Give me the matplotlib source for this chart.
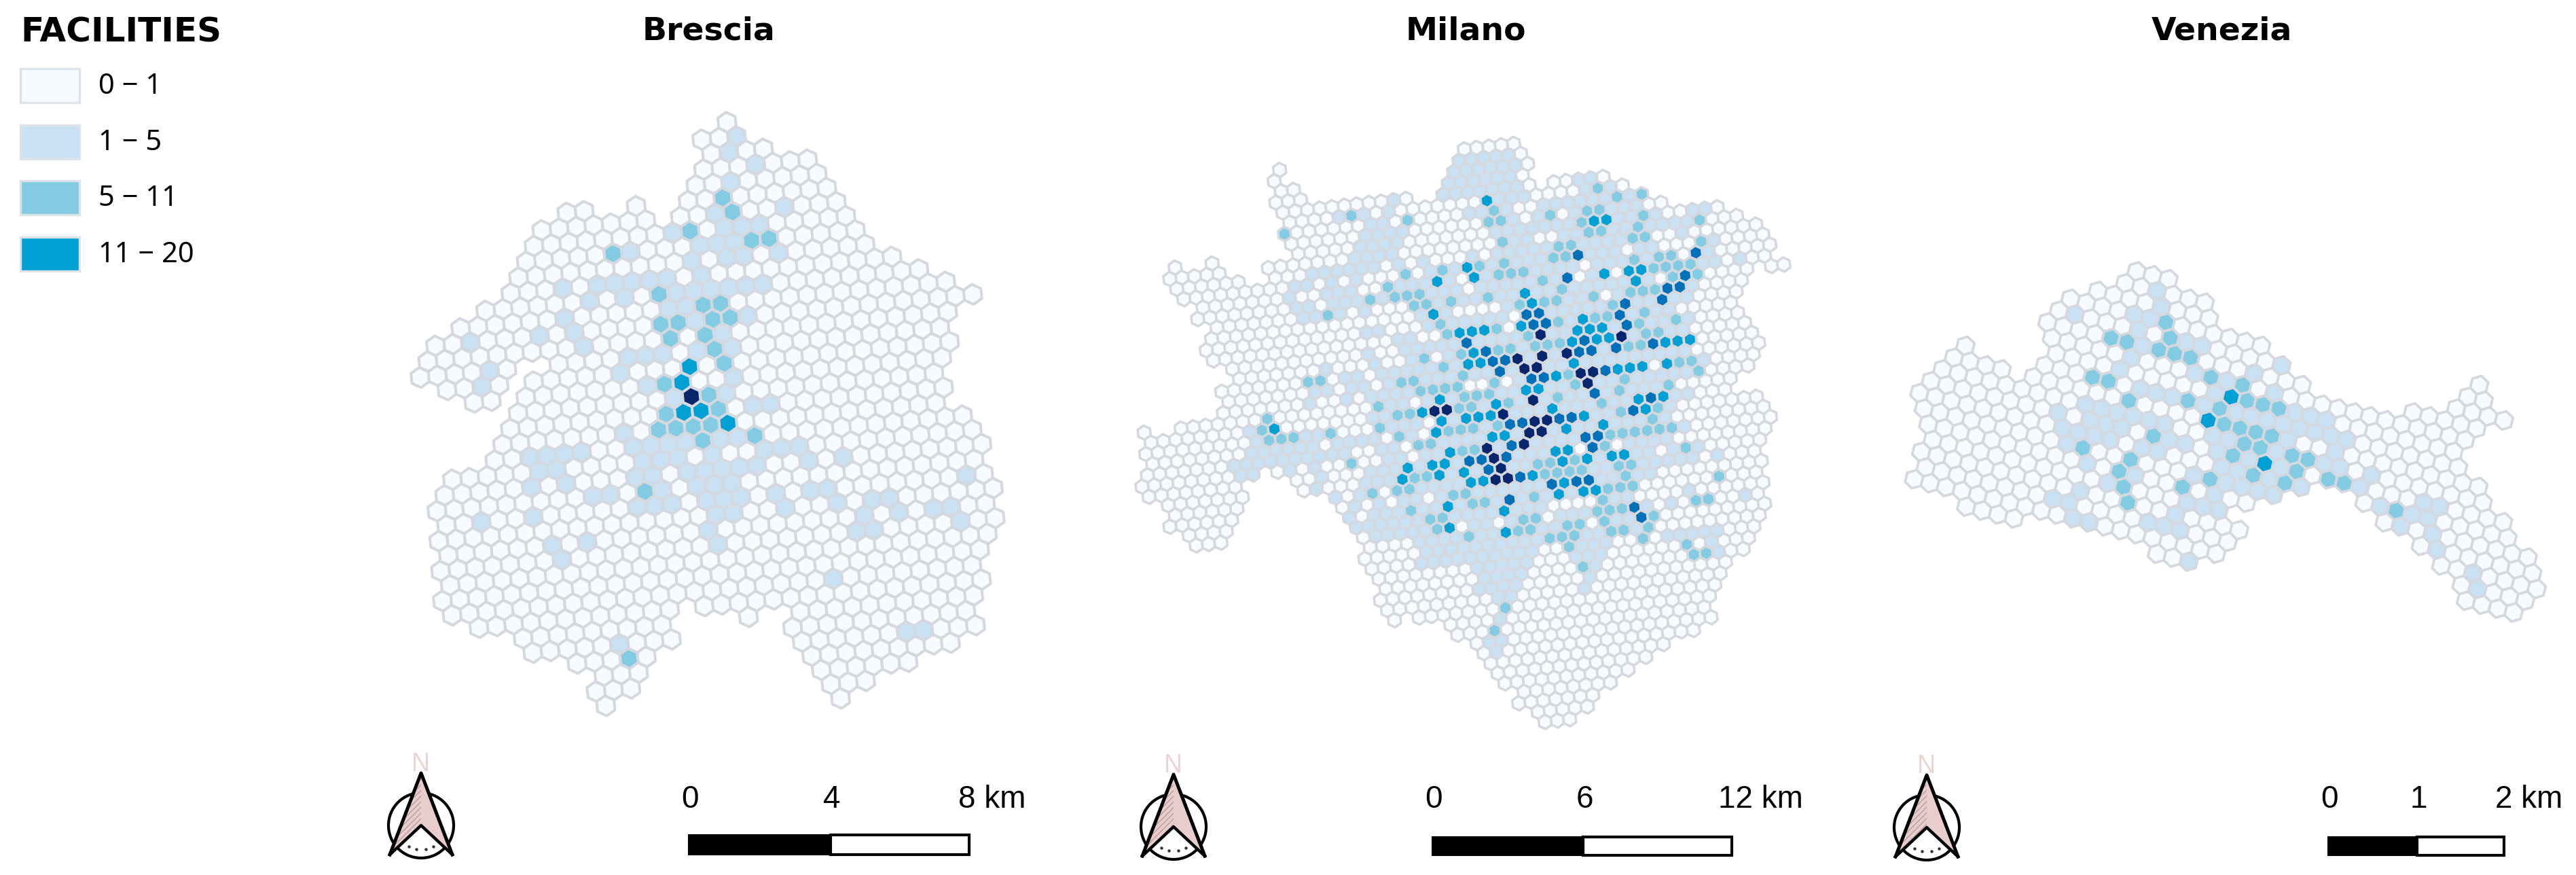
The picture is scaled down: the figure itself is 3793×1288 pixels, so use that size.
#!/usr/bin/env python3
# -*- coding: utf-8 -*-
"""
Facilities per hexagon cell in Brescia, Milano and Venezia.
Cells are kept as (row, col) on each city's hex lattice.
"""
import numpy as np

import matplotlib as mpl
mpl.use('Agg')
import matplotlib.pyplot as plt
from matplotlib.collections import PolyCollection
from matplotlib.patches import Circle, Polygon, Rectangle

W, H = 3793, 1288

legend_labels = ['0 \u2212 1', '1 \u2212 5', '5 \u2212 11', '11 \u2212 20']
colors = ['#f7fbff', '#c9e1f3', '#83cbe3', '#009fd4', '#0070b8', '#08266e']
edge = '#d5d9df'

# ---- Brescia ----
brescia_spans = [
    (0, 0, 0), (1, -2, 0), (2, -2, 1), (3, -3, 3), (4, -4, 3),
    (5, -12, -11), (5, -8, -8), (5, -5, 3), (6, -14, -8), (6, -6, 3),
    (7, -15, 3), (8, -16, 3), (9, -17, 3), (10, -18, 4), (11, -20, 5),
    (12, -22, 6), (13, -24, 7), (14, -25, 5), (15, -26, -21), (15, -18, 4),
    (16, -25, -22), (16, -20, 4), (17, -24, -23), (17, -21, 3), (18, -22, 2),
    (19, -23, 2), (20, -24, 1), (21, -25, 2), (22, -28, 2), (23, -29, 2),
    (24, -30, 1), (25, -30, 1), (26, -31, 1), (27, -31, 0), (28, -32, 0),
    (29, -32, -1), (30, -33, -2), (31, -33, -3), (32, -32, -21), (32, -19, -3),
    (33, -30, -22), (33, -17, -17), (33, -14, -4), (34, -30, -22), (34, -15, -5),
    (35, -28, -24), (35, -15, -5), (36, -27, -25), (36, -15, -7),
    (37, -28, -26), (37, -15, -10), (38, -28, -28), (38, -15, -13), (39, -15, -15),
]
brescia_1_5 = [
    (1, 0), (2, -1), (3, 0), (4, -2), (6, 0), (6, -4), (7, -4), (7, -3), (7, -2), (7, -7),
    (8, -6), (8, -5), (8, -4), (8, -10), (9, -2), (9, -4), (9, -5), (9, -7), (10, -7),
    (10, -13), (10, -12), (10, -11), (10, -10), (10, -9), (10, -15), (11, -9), (11, -8),
    (11, -7), (11, -6), (11, -5), (11, -4), (11, -14), (11, -12), (12, -10), (12, -9),
    (12, -16), (13, -9), (13, -6), (14, -8), (13, -16), (13, -18), (13, -22), (14, -16),
    (15, -10), (15, -8), (15, -14), (15, -13), (15, -12), (15, -22), (16, -15), (16, -23),
    (17, -14), (17, -9), (18, -13), (18, -10), (20, -17), (19, -9), (19, -8), (21, -11),
    (22, -9), (22, -8), (22, -10), (23, -8), (21, -17), (21, -16), (21, -15), (21, -14),
    (21, -12), (22, -17), (22, -16), (22, -15), (22, -13), (23, -18), (23, -17), (23, -15),
    (23, -14), (23, -13), (23, -12), (23, -11), (24, -17), (24, -15), (24, -14), (24, -13),
    (25, -19), (25, -18), (25, -17), (25, -15), (25, -14), (25, -13), (26, -15), (26, -14),
    (27, -16), (28, -16), (21, -23), (21, -22), (21, -21), (21, -20), (22, -23), (22, -22),
    (23, -24), (23, -22), (24, -21), (24, -20), (23, -6), (25, -11), (25, -9), (25, -8),
    (26, -11), (26, -8), (26, -6), (26, -5), (27, -7), (27, -5), (25, 0), (27, -3), (27, -2),
    (28, -2), (25, -28), (25, -25), (27, -23), (27, -25), (28, -25), (28, -8), (28, -7),
    (31, -11), (35, -9), (35, -8), (34, -25),
]
brescia_5_11 = [
    (5, -3), (6, -3), (7, -6), (8, -3), (8, -2), (8, -11), (11, -10), (12, -8), (12, -7),
    (13, -8), (13, -7), (13, -11), (13, -10), (14, -11), (14, -9), (15, -9), (16, -9),
    (17, -13), (18, -11), (19, -11), (19, -14), (20, -12), (20, -15), (20, -14), (20, -13),
    (21, -13), (21, -10), (24, -18), (35, -25),
]
brescia_11_20 = [(16, -11), (17, -12), (19, -13), (19, -12), (20, -11)]
brescia_top = [(18, -12)]

# ---- Milano ----
milano_spans = [
    (0, -16, -16), (0, -1, 3), (1, -17, -17), (1, -2, 3), (2, -17, -16), (2, -3, 3),
    (3, -18, -16), (3, -4, 2), (4, -18, -8), (4, -5, 2), (4, 4, 8), (5, -18, 9),
    (6, -19, 10), (7, -19, 11), (8, -29, -29), (8, -26, -26), (8, -19, 15),
    (9, -30, -26), (9, -22, 16), (10, -30, -25), (10, -22, 17), (11, -30, 17),
    (12, -29, 17), (13, -30, 16), (14, -29, 14), (14, 16, 17), (15, -30, 13),
    (16, -31, 12), (17, -31, 11), (18, -30, 11), (19, -30, 11), (20, -32, 11),
    (21, -32, 11), (22, -33, 10), (23, -40, -40), (23, -37, 9), (24, -40, 7),
    (25, -41, 6), (26, -41, 8), (27, -42, 8), (28, -43, -35), (28, -32, 8),
    (29, -43, -36), (29, -31, 7), (30, -42, -36), (30, -31, 6), (31, -42, -37),
    (31, -29, 5), (32, -43, -38), (32, -29, 5), (33, -42, -39), (33, -29, 4),
    (34, -42, -40), (34, -29, 4), (35, -29, 3), (36, -29, 3), (37, -30, 2),
    (38, -30, 1), (39, -30, 0), (40, -30, -1), (41, -31, -3), (42, -31, -4),
    (43, -31, -31), (43, -29, -5), (44, -27, -6), (45, -27, -7), (46, -26, -7),
    (47, -26, -9), (48, -26, -12), (49, -26, -14), (50, -26, -16), (51, -25, -18),
    (52, -26, -20), (53, -25, -21), (54, -25, -23),
]
milano_light_spans = [
    (1, -2, 2), (2, -3, 2), (3, -4, 1), (4, -5, 1), (4, 6, 7), (4, -9, -9), (5, -14, -9),
    (5, -2, 1), (5, 6, 8), (6, -12, -9), (6, -4, -1), (6, 2, 10), (7, -13, -10), (7, -3, -1),
    (7, 1, 9), (8, -14, -11), (8, -3, 10), (8, 13, 14), (9, -15, -12), (9, -3, 12),
    (10, -20, -12), (10, -10, -6), (10, -4, 11), (11, -21, -12), (11, -10, 11), (11, 13, 13),
    (12, -22, 12), (13, -22, 12), (13, 14, 14), (14, -22, 10), (15, -22, 9), (16, -23, 8),
    (17, -23, 6), (18, -23, 7), (19, -23, 6), (20, -25, 6), (21, -25, 5), (22, -26, 6),
    (23, -26, 5), (24, -32, -30), (24, -26, 2), (25, -32, -28), (25, -27, 3), (26, -33, 1),
    (27, -35, 0), (28, -35, -34), (28, -31, 1), (29, -31, -1), (30, -30, 1), (31, -29, 0),
    (31, 2, 2), (32, -28, -4), (33, -29, -6), (34, -29, -7), (34, -2, -2), (35, -28, -6),
    (35, -4, -4), (35, 2, 2), (36, -25, -6), (37, -25, -7), (38, -26, -17), (38, -14, -11),
    (38, -6, -2), (39, -22, -18), (39, -14, -12), (39, -3, -3), (40, -22, -19), (40, -14, -13),
    (40, -3, -3), (41, -23, -20), (41, -14, -14), (42, -22, -21), (42, -15, -15), (44, -23, -23),
    (46, -25, -24), (47, -25, -25),
]
milano_holes = [
    (6, -10), (11, -14), (12, -16), (15, -16), (15, -17), (16, -15), (18, -18), (19, -14),
    (22, -13), (22, -12), (22, -10), (23, -18), (25, -18), (27, -21), (28, -21), (32, -25),
    (33, -28), (35, -21), (35, -18), (35, -14), (36, -11), (13, -8), (15, -10), (15, -9),
    (15, -8), (15, -7), (16, -6), (17, -7), (12, 2), (13, 1), (13, 4), (15, 2), (22, 2),
    (29, -5), (29, -8), (30, -2), (34, -12), (34, -11), (34, -10), (34, -13), (8, -10),
    (7, -4), (9, 0), (9, 1), (7, 3), (11, 6), (11, 11), (14, 7), (12, 10), (11, 9), (11, 10),
    (10, 10), (10, 9),
    # west side, which is about half empty
    (5, -11), (5, -9), (5, -7), (5, -6), (5, -5), (5, -4), (5, -3), (6, -8), (6, -7), (6, -6),
    (6, -5), (7, -9), (7, -8), (7, -7), (7, -6), (7, -5), (8, -10), (8, -9), (8, -8), (8, -7),
    (8, -6), (8, -5), (8, -4), (9, -11), (9, -10), (9, -9), (9, -8), (9, -7), (9, -6), (9, -5),
    (9, -4), (10, -20), (10, -13), (10, -11), (10, -9), (10, -8), (10, -7), (10, -5), (11, -19),
    (11, -17), (11, -15), (11, -13), (12, -21), (12, -20), (12, -15), (12, -8), (13, -20),
    (14, -20), (14, -18), (14, -16), (14, -15), (14, -14), (15, -23), (15, -22), (15, -21),
    (15, -20), (15, -19), (15, -18), (15, -15), (15, -14), (16, -23), (16, -22), (16, -21),
    (16, -20), (16, -19), (16, -16), (16, -14), (17, -24), (17, -23), (17, -22), (17, -21),
    (17, -20), (17, -19), (17, -18), (17, -17), (17, -14), (17, -13), (18, -23), (18, -22),
    (18, -21), (18, -20), (18, -17), (19, -25), (19, -22), (19, -21), (19, -20), (19, -18),
    (19, -17), (20, -26), (20, -25), (20, -23), (20, -20), (21, -26), (21, -23), (21, -20),
    (22, -27), (22, -25), (22, -24), (22, -22), (23, -27), (23, -26), (23, -25), (23, -24),
    (23, -23), (23, -22), (24, -28), (24, -27), (24, -26), (24, -25), (24, -24), (24, -23),
    (25, -25), (25, -24), (25, -23), (26, -27), (26, -22), (26, -19), (27, -25), (27, -24),
    (28, -30), (28, -28), (28, -27), (28, -25), (28, -24), (29, -31), (29, -30), (29, -28),
    (29, -27), (29, -26), (30, -29), (30, -28), (30, -27), (31, -28), (31, -25), (32, -27),
    (32, -25), (32, -22),
]
milano_5_11 = [
    (5, -13), (6, -19), (6, -9), (6, -2), (7, -3), (7, -2), (7, 2), (7, 5), (7, 6), (8, 4),
    (5, 7), (6, 8), (6, 10), (8, 9), (9, 8), (9, 13), (9, 4), (9, 5), (10, 7), (10, 8),
    (9, -3), (11, 12), (10, 1), (10, 2), (11, 0), (11, 1), (12, 6), (12, 8), (12, 9),
    (13, 7), (13, 8), (13, 9), (13, 10), (11, -4), (11, -6), (11, -9), (12, -5), (12, -4),
    (12, -3), (11, -12), (14, 8), (14, 10), (13, -2), (14, -1), (15, 1), (15, 4), (15, 5),
    (15, 6), (12, -14), (13, -14), (13, -13), (13, -12), (14, -10), (14, -13), (14, -12),
    (13, -16), (14, -20), (14, -7), (15, -5), (15, -3), (15, -2), (16, 2), (17, 4),
    (18, 6), (17, 0), (17, 1), (16, -12), (17, -8), (17, -12), (18, -6), (17, -3),
    (18, 3), (19, 4), (19, 3), (20, 2), (20, 1), (19, -8), (19, -9), (19, -12), (19, -6),
    (19, -5), (19, -4), (22, 4), (22, 5), (23, 5), (24, 2), (19, -15), (20, -14), (21, -13),
    (22, -5), (23, -5), (24, -2), (23, -1), (25, -4), (21, -18), (21, -17), (22, -17),
    (22, -16), (22, -15), (22, -14), (20, -25), (20, -24), (22, -11), (24, -7), (26, 0),
    (23, -14), (23, -13), (23, -12), (23, -21), (24, -20), (24, -19), (24, -15), (24, -14),
    (24, -11), (26, -3), (27, -1), (23, -30), (24, -31), (25, -31), (25, -30), (25, -29),
    (25, -26), (25, -22), (26, -21), (27, -20), (27, -19), (26, -17), (26, -16), (26, -15),
    (26, -13), (28, -5), (28, -4), (28, -3), (28, -2), (28, -1), (28, 0), (30, 0), (28, -17),
    (28, -16), (29, -6), (30, -12), (30, -11), (30, -9), (31, -6), (31, -5), (32, -6),
    (33, -8), (33, -7), (33, -6), (30, -22), (30, -21), (28, -26), (31, -12), (31, -11),
    (31, -10), (31, -9), (33, 1), (31, -24), (31, -23), (32, -20), (32, -19), (31, -26),
    (33, -14), (34, -9), (33, -19), (33, -18), (35, -10), (35, -9), (35, -8), (33, -24),
    (35, -2), (35, -1), (34, -23), (34, -22), (35, -16), (35, -15), (36, -13), (36, -12),
    (36, -10), (35, -23), (36, -17), (36, -16), (37, -13), (37, -10), (36, -6), (36, -21),
    (37, -15), (37, -14), (37, -9), (37, -7), (38, -14), (38, -8), (39, -5), (40, -5),
    (40, -4), (40, -14), (43, -22), (45, -24),
]
milano_11_20 = [
    (5, -2), (8, 5), (8, 6), (13, 3), (11, -7), (12, -7), (12, -10), (15, -12), (13, 5),
    (13, 6), (14, 5), (14, -4), (15, -4), (17, -6), (17, -1), (18, -1), (18, 0), (18, -2),
    (19, -3), (19, -1), (19, 0), (20, 4), (20, 5), (20, 6), (17, -11), (17, -10), (17, -9),
    (19, -11), (20, -12), (20, -11), (21, -4), (22, 0), (22, 1), (22, 3), (22, -1),
    (23, -9), (23, -8), (22, -6), (25, -1), (25, 1), (23, -16), (24, -18), (25, -17),
    (26, -18), (24, -12), (25, -13), (25, -15), (25, -14), (27, -8), (26, -6), (27, -5),
    (25, -8), (27, -13), (27, -14), (29, -10), (29, -9), (30, -8), (30, -10), (30, -6),
    (30, -5), (28, -18), (29, -22), (30, -23), (29, -20), (29, -19), (30, -20), (30, -18),
    (31, -18), (31, -17), (32, -11), (33, -10), (33, -9), (33, -12), (33, -21), (34, -17),
    (35, -22), (36, -18), (31, -13), (24, -30), (26, -1),
]
milano_20_30 = [
    (11, 2), (13, 0), (14, 9), (16, 3), (17, 2), (18, 2), (17, -5), (17, -4), (18, -11),
    (19, -10), (20, -10), (20, -9), (21, -10), (22, -8), (22, -7), (19, -2), (20, -2),
    (20, -3), (20, 0), (22, -2), (24, -4), (25, 0), (26, -2), (20, 3), (26, -12), (26, -11),
    (26, -8), (26, -7), (28, -7), (28, -6), (29, -7), (28, -13), (29, -14), (30, -16),
    (29, -17), (29, -16), (32, -12), (32, -10), (32, -9), (31, -14), (33, -16), (35, -7),
    (36, -7), (12, 11), (15, 7), (15, 8), (16, 6), (16, -4), (16, -5),
]
milano_top = [
    (18, -5), (19, 1), (20, -8), (20, -6), (20, -4), (21, -8), (21, -7), (22, -4), (22, -3),
    (23, -4), (24, -9), (24, -17), (24, -16), (25, -12), (26, -10), (26, -9), (27, -10),
    (27, -11), (28, -12), (28, -15), (29, -15), (30, -15), (31, -16), (31, -15),
]

# ---- Venezia ----
venezia_spans = [
    (-7, -4, -2), (-6, -5, 0), (-5, -7, 0), (-5, 17, 17), (-4, -9, 3), (-4, 16, 17),
    (-3, -10, 4), (-3, 15, 18), (-2, -11, 5), (-2, 12, 16), (-1, -11, 15), (0, -11, 14),
    (1, -17, -17), (1, -12, 14), (2, -18, -15), (2, -13, 15), (3, -19, 15), (4, -20, 16),
    (5, -21, 3), (5, 7, 16), (6, -21, 1), (6, 8, 17), (7, -21, -1), (7, 10, 17),
    (8, -21, -3), (8, 11, 17), (9, -22, -2), (9, 12, 16), (10, -22, -3), (10, 12, 15),
    (11, -23, -4), (12, -20, -17), (12, -8, -6),
]
venezia_1_5 = [
    (-6, -3), (-5, -3), (-3, -9), (-4, -5), (-4, -4), (-3, -5), (-2, -5), (-3, -2), (-3, -1),
    (-1, -6), (0, -7), (-1, -2), (-2, 2), (-3, 4), (-1, 0), (1, -6), (1, -5), (1, -4), (0, -1),
    (-1, 3), (1, -2), (1, 0), (1, 1), (1, 2), (1, 3), (1, 4), (0, 4), (0, 5), (0, 6), (1, 5),
    (1, 6), (1, 7), (4, -12), (3, -10), (3, -9), (3, -8), (4, -10), (4, -9), (4, -8), (3, -7),
    (3, -6), (3, -5), (5, -12), (5, -11), (5, -10), (5, -9), (6, -12), (7, -11), (8, -10),
    (9, -12), (10, -14), (10, -13), (11, -13), (11, -12), (5, -7), (5, -6), (7, -8), (4, -5),
    (4, -4), (3, -2), (3, -1), (2, 3), (2, 6), (3, 6), (3, 5), (4, 7), (3, 8), (4, -2), (5, -2),
    (5, -1), (6, -4), (6, -2), (6, -1), (6, 0), (6, 1), (5, 3), (7, -3), (8, -5), (8, -4),
    (8, -3), (9, -6), (10, -8), (10, -7), (10, -6), (12, -6), (5, 8), (5, 10), (4, 11), (4, 12),
    (5, 11), (6, 9), (6, 11), (7, 11), (8, 13), (9, 13), (3, 2), (4, 2), (5, 1), (4, 0),
]
venezia_5_11 = [
    (-4, -3), (-2, -7), (-2, -6), (-3, -3), (-2, -4), (-2, -3), (-2, -2), (1, -9), (1, -8),
    (-1, -1), (-1, 1), (2, -7), (1, -3), (0, 1), (0, 2), (0, 3), (1, -1), (2, -1), (2, 0),
    (2, 1), (2, 2), (4, -6), (3, 0), (3, 1), (6, -11), (4, -1), (3, 3), (3, 4), (6, -8),
    (7, -9), (4, 3), (5, 0), (5, 2), (4, 5), (4, 6), (6, -3), (7, -5), (8, -9), (9, -9), (5, 9),
]
venezia_11_20 = [(0, 0), (2, -2), (4, 1)]


def hex_cells(spans, levels):
    # every span is class 0, later levels paint over earlier ones
    cells = {}
    for row, first, last in spans:
        for col in range(first, last + 1):
            cells[(row, col)] = 0
    for level, items in levels:
        for cell in items:
            cells[cell] = level
    return cells


def draw_city(ax, cells, origin, a, b, lw):
    origin, a, b = np.array(origin), np.array(a), np.array(b)
    radius = np.hypot(*a) / np.sqrt(3)
    turn = np.arctan2(a[1], a[0]) + np.radians(30) + np.arange(6) * np.radians(60)
    corners = radius * np.column_stack([np.cos(turn), np.sin(turn)])
    keys = sorted(cells, key=lambda c: cells[c])
    verts = [origin + c * a + r * b + corners for r, c in keys]
    ax.add_collection(PolyCollection(verts, facecolors=[colors[cells[k]] for k in keys],
                                     edgecolors=edge, linewidths=lw))


def span_level(spans):
    return [(r, c) for r, first, last in spans for c in range(first, last + 1)]


def north_arrow(ax, cx, cy):
    # cy is the inner notch of the arrow, also the compass centre
    ax.add_patch(Circle((cx, cy), 48, fc='white', ec='black', lw=3.0))
    tip, left, right, notch = (cx, cy - 77), (cx - 46, cy + 43), (cx + 46, cy + 43), (cx, cy)
    ax.add_patch(Polygon([tip, right, notch], fc='#e9cccc', ec='none'))
    ax.add_patch(Polygon([tip, left, notch], fc='#e9cccc', ec='#b99f9f', lw=0, hatch='////'))
    ax.plot([left[0], tip[0], right[0]], [left[1], tip[1], right[1]], color='black', lw=3.6)
    ax.plot([left[0], notch[0], right[0]], [left[1], notch[1], right[1]], color='black', lw=3.2)
    ax.plot(cx + np.array([-18, -7, 7, 18]), cy + np.array([31, 35, 35, 31]), ls='none',
            marker='o', ms=2.2, color='#333333')
    ax.text(cx - 1, cy - 90, 'N', color='#ecd3d3', fontsize=27, ha='center', va='center',
            family='Liberation Sans')


def scale_bar(ax, x0, xm, x1, y0, y1, labels, km_x):
    ax.add_patch(Rectangle((x0, y0), xm - x0, y1 - y0, fc='black', ec='black', lw=1.5))
    ax.add_patch(Rectangle((xm, y0), x1 - xm, y1 - y0, fc='white', ec='black', lw=3))
    for x, lab in zip([x0, xm], labels[:2]):
        ax.text(x + 2, 1177, lab, fontsize=33, ha='center', va='center', family='Liberation Sans')
    ax.text(km_x, 1177, labels[2], fontsize=33, ha='left', va='center', family='Liberation Sans')


fig = plt.figure(figsize=(W / 100, H / 100), dpi=100)
ax = fig.add_axes([0, 0, 1, 1])
ax.set_xlim(0, W)
ax.set_ylim(H, 0)
ax.axis('off')

# legend
ax.text(30, 47, 'FACILITIES', fontsize=36, fontweight='bold', va='center', family='DejaVu Sans')
for i, (y, lab) in enumerate(zip([101, 184, 266, 349], legend_labels)):
    ax.add_patch(Rectangle((30, y), 87, 50, fc=colors[i], ec='#dde3ea', lw=2.4))
    ax.text(145, y + 26, lab, fontsize=30, va='center', family='Noto Sans')

# titles
for x, name in zip([1044, 2158, 3271], ['Brescia', 'Milano', 'Venezia']):
    ax.text(x, 46, name, fontsize=34, fontweight='bold', ha='center', va='center',
            family='DejaVu Sans')

brescia = hex_cells(brescia_spans, [(1, brescia_1_5), (2, brescia_5_11), (3, brescia_11_20),
                                    (5, brescia_top)])
draw_city(ax, brescia, (1070.4, 180.0), (25.51, -2.45), (14.1, 20.8), 2.9)

milano = hex_cells(milano_spans, [(1, span_level(milano_light_spans)), (0, milano_holes),
                                  (2, milano_5_11), (3, milano_11_20), (4, milano_20_30),
                                  (5, milano_top)])
draw_city(ax, milano, (2174.4, 217.8), (18.14, -2.02), (10.26, 14.71), 2.6)

venezia = hex_cells(venezia_spans, [(1, venezia_1_5), (2, venezia_5_11), (3, venezia_11_20)])
draw_city(ax, venezia, (3285.2, 584.2), (23.4, 5.77), (6.5, 23.08), 2.7)

for cx, cy in zip([620, 1728, 2837], [1215, 1217, 1218]):
    north_arrow(ax, cx, cy)

scale_bar(ax, 1014, 1223, 1427, 1229, 1258, ['0', '4', '8 km'], 1411)
scale_bar(ax, 2109, 2331, 2550, 1232, 1259, ['0', '6', '12 km'], 2530)
scale_bar(ax, 3428, 3559, 3687, 1232, 1259, ['0', '1', '2 km'], 3674)

fig.savefig('out.png', dpi=100)
